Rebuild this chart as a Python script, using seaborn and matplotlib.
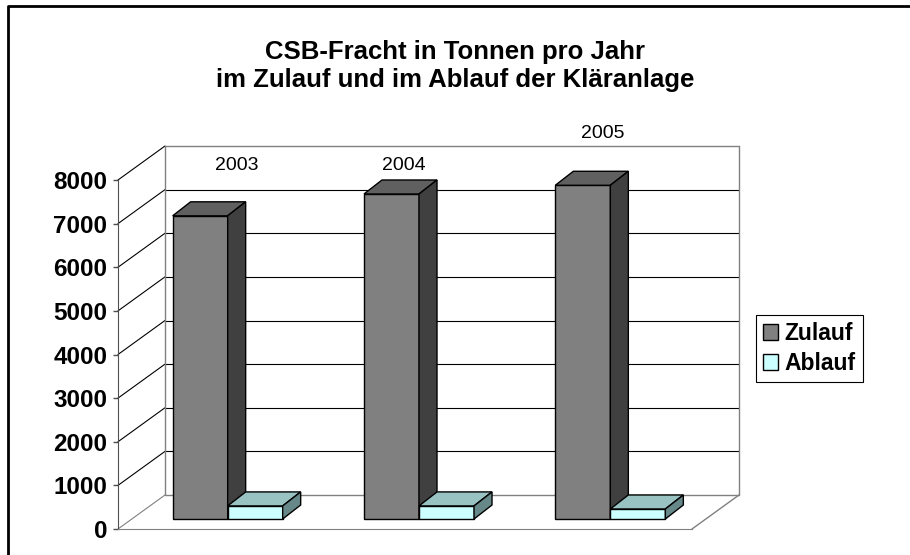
import numpy as np
import pandas as pd
import matplotlib
matplotlib.use("Agg")
import matplotlib.pyplot as plt
import matplotlib.transforms as mtransforms
from matplotlib.patches import Polygon, Patch
from matplotlib.lines import Line2D
import seaborn as sns

# Data (tonnes per year)
jahre = ["2003", "2004", "2005"]
zulauf = [6950, 7450, 7650]
ablauf = [300, 300, 230]
serien = ["Zulauf", "Ablauf"]
y_ticks = [0, 1000, 2000, 3000, 4000, 5000, 6000, 7000, 8000]

sns.set_style("white")
plt.rcParams['font.family'] = ['Liberation Sans', 'DejaVu Sans']
plt.rcParams['text.color'] = 'black'
plt.rcParams['ytick.labelcolor'] = 'black'

df = pd.DataFrame({
    "Jahr": jahre * 2,
    "Serie": ["Zulauf"] * 3 + ["Ablauf"] * 3,
    "Fracht": zulauf + ablauf,
})

front_col = {"Zulauf": "#808080", "Ablauf": "#CCFFFF"}
top_col = {"Zulauf": "#606060", "Ablauf": "#99C2C2"}
side_col = {"Zulauf": "#404040", "Ablauf": "#678888"}

fig = plt.figure(figsize=(9.1, 5.55), dpi=100)
ax = fig.add_axes([118 / 910, 26 / 555, 574 / 910, 349 / 555])

sns.barplot(data=df, x="Jahr", y="Fracht", hue="Serie", hue_order=serien,
            palette=front_col, width=0.575, saturation=1, errorbar=None,
            edgecolor="black", linewidth=1, legend=False, ax=ax)

ax.set_xlim(-0.5, 2.5)
ax.set_ylim(0, 8000)
ax.set_yticks(y_ticks)
ax.set_xticks([])
ax.set_xlabel("")
ax.set_ylabel("")
ax.set_facecolor("none")
for s in ["top", "right"]:
    ax.spines[s].set_visible(False)
ax.spines["bottom"].set_color("#808080")
ax.spines["left"].set_color("#505050")
ax.tick_params(axis="y", left=True, direction="out", length=3.6, width=1,
               color="#505050", labelcolor="black", pad=4, labelsize=17.5)
for lbl in ax.get_yticklabels():
    lbl.set_fontweight("bold")


# pseudo-3D depth offsets (pixels at 100 dpi)
def off(dx, dy):
    return mtransforms.ScaledTranslation(dx / 100, dy / 100, fig.dpi_scale_trans)


front_t = ax.transData + off(14, 10)
barback_t = ax.transData + off(32, 24)
wall_t = ax.transData + off(47, 34)
to_in = fig.dpi_scale_trans.inverted()


def seg(p, q, **kw):
    pts = to_in.transform(np.array([p, q]))
    ax.add_line(Line2D(pts[:, 0], pts[:, 1], transform=fig.dpi_scale_trans,
                       clip_on=False, **kw))


# back wall
for v in y_ticks:
    edge = v in (0, 8000)
    ax.plot([-0.5, 2.5], [v, v], transform=wall_t, clip_on=False, zorder=1,
            color="#808080" if edge else "black", lw=1 if edge else 0.8)
    seg(ax.transData.transform((-0.5, v)), wall_t.transform((-0.5, v)),
        color="#808080" if v == 0 else "black", lw=0.8, zorder=1)
for xv in (-0.5, 2.5):
    ax.plot([xv, xv], [0, 8000], transform=wall_t, clip_on=False, zorder=1,
            color="#808080", lw=1)
seg(ax.transData.transform((2.5, 0)), wall_t.transform((2.5, 0)),
    color="#808080", lw=1, zorder=1)

# bars with top and side faces
for k, (cont, s) in enumerate(zip(ax.containers, serien)):
    z = 3 + k
    for bar in cont:
        x0 = bar.get_x()
        x1 = x0 + bar.get_width()
        h = bar.get_height()
        bar.set_transform(front_t)
        bar.set_zorder(z)
        bar.set_clip_on(False)
        top = np.vstack([front_t.transform([(x0, h), (x1, h)]),
                         barback_t.transform([(x1, h), (x0, h)])])
        side = np.vstack([front_t.transform([(x1, 0), (x1, h)]),
                          barback_t.transform([(x1, h), (x1, 0)])])
        for pts, col in ((top, top_col[s]), (side, side_col[s])):
            ax.add_patch(Polygon(to_in.transform(pts), closed=True,
                                 transform=fig.dpi_scale_trans, fc=col,
                                 ec="black", lw=1, zorder=z, clip_on=False))

# year labels as they sit in the original
fig.text(237 / 910, 1 - 165 / 555, jahre[0], ha="center", va="center", fontsize=14)
fig.text(404 / 910, 1 - 165 / 555, jahre[1], ha="center", va="center", fontsize=14)
fig.text(603 / 910, 1 - 133 / 555, jahre[2], ha="center", va="center", fontsize=14)

fig.text(0.5, 1 - 66 / 555,
         "CSB-Fracht in Tonnen pro Jahr\nim Zulauf und im Ablauf der Kläranlage",
         ha="center", va="center", fontsize=18.5, fontweight="bold", linespacing=1.2)

handles = [Patch(fc=front_col[s], ec="black", lw=1, label=s) for s in serien]
leg = ax.legend(handles=handles, loc="center left",
                bbox_to_anchor=(756 / 910, 1 - 348.5 / 555),
                bbox_transform=fig.transFigure,
                prop={"weight": "bold", "size": 16.5}, frameon=True,
                fancybox=False, edgecolor="black", framealpha=1, borderpad=0.3,
                handlelength=0.65, handleheight=0.65, handletextpad=0.3,
                labelspacing=0.3, borderaxespad=0)
leg.get_frame().set_linewidth(0.8)

# outer frame (top and left edges visible)
fig.add_artist(Line2D([8 / 910, 8 / 910, 1], [0, 1 - 6 / 555, 1 - 6 / 555],
                      transform=fig.transFigure, color="black", lw=2))

fig.savefig("out.png", dpi=100)
